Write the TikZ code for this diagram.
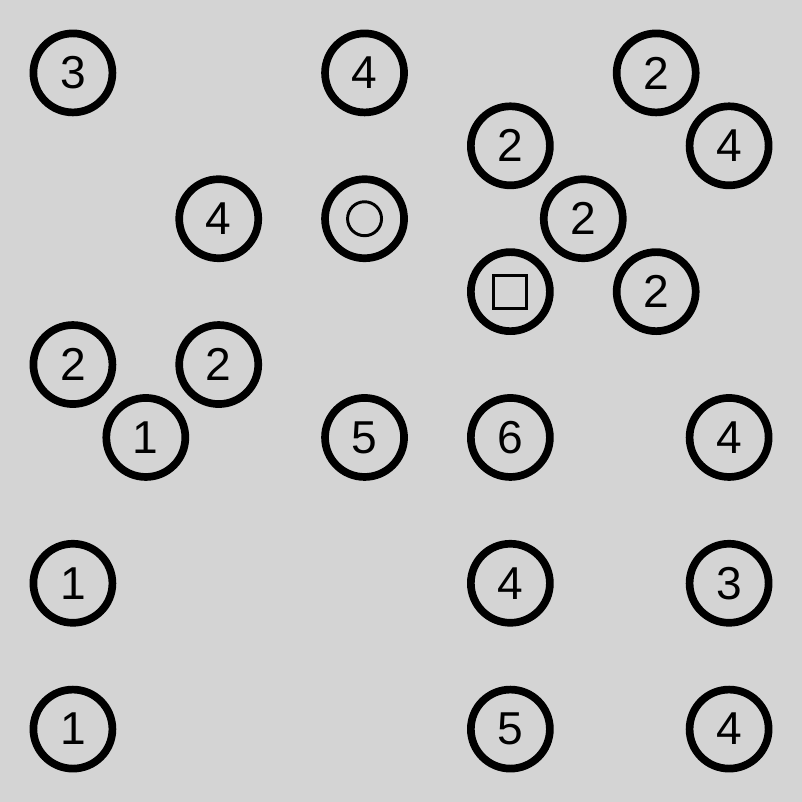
\documentclass[tikz,border=0pt]{standalone}
\usepackage{fontspec}
\setmainfont{Liberation Sans}

\tikzset{
  clue/.style={circle,draw=black,fill=black!17,line width=3pt,minimum size=1.084cm,inner sep=0pt,font=\fontsize{18}{18}\selectfont},
  symbol/.style={draw=black,line width=1.15pt}
}

\begin{document}
\begin{tikzpicture}[x=1cm,y=-1cm]
      % Background
      \fill[black!17] (0,0) rectangle (11,11);
      \useasboundingbox (0,0) rectangle (11,11);

      % Row 1
      \node[clue] (c11) at (1,1) {3};
      \node[clue] (c51) at (5,1) {4};
      \node[clue] (c91) at (9,1) {2};

      % Row 2
      \node[clue] (c72) at (7,2) {2};
      \node[clue] (c102) at (10,2) {4};

      % Row 3
      \node[clue] (c33) at (3,3) {4};
      \node[clue] (c53) at (5,3) {};
      \node[clue] (c83) at (8,3) {2};

      % Row 4
      \node[clue] (c74) at (7,4) {};
      \node[clue] (c94) at (9,4) {2};

      % Row 5
      \node[clue] (c15) at (1,5) {2};
      \node[clue] (c35) at (3,5) {2};

      % Row 6
      \node[clue] (c26) at (2,6) {1};
      \node[clue] (c56) at (5,6) {5};
      \node[clue] (c76) at (7,6) {6};
      \node[clue] (c106) at (10,6) {4};

      % Row 8
      \node[clue] (c18) at (1,8) {1};
      \node[clue] (c78) at (7,8) {4};
      \node[clue] (c108) at (10,8) {3};

      % Row 10
      \node[clue] (c110) at (1,10) {1};
      \node[clue] (c710) at (7,10) {5};
      \node[clue] (c1010) at (10,10) {4};

      % Symbols inside the empty circles
      \draw[symbol] (c53.center) circle (0.233);
      \draw[symbol] (c74.center) ++(-0.226,-0.226) rectangle ++(0.452,0.452);

\end{tikzpicture}
\end{document}
